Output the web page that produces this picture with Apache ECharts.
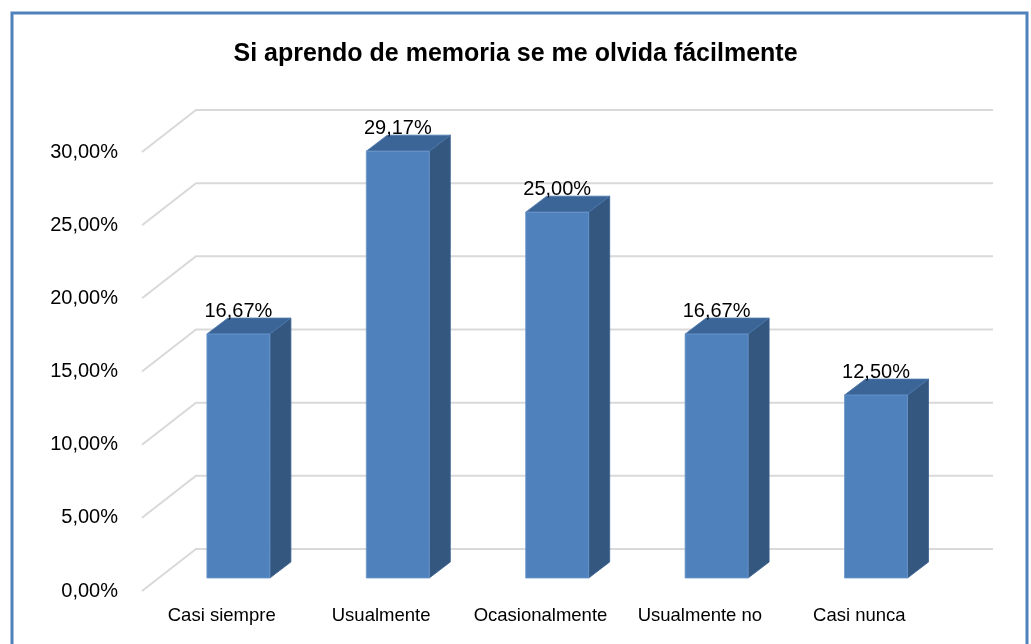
<!DOCTYPE html>
<html>
<head>
<meta charset="utf-8">
<script src="https://cdn.jsdelivr.net/npm/echarts@6/dist/echarts.min.js"></script>
<style>
  html, body { margin: 0; padding: 0; background: #fff; }
  #main { width: 1031px; height: 644px; }
</style>
</head>
<body>
<div id="main"></div>
<script>
var titulo = 'Si aprendo de memoria se me olvida fácilmente';
var categorias = ['Casi siempre', 'Usualmente', 'Ocasionalmente', 'Usualmente no', 'Casi nunca'];
var valores = [16.67, 29.17, 25.00, 16.67, 12.50];
var ticks = [0, 5, 10, 15, 20, 25, 30];

var myChart = echarts.init(document.getElementById('main'));

// desplazamientos de la perspectiva (pared del fondo y barras)
var fondo = [54, -42];
var barFront = [16.7, -13];
var barDepth = [21, -16];
var barHalf = 31.5;

function pct(v) {
  return v.toFixed(2).replace('.', ',') + '%';
}

var option = {
  backgroundColor: '#fff',
  animation: false,
  title: {
    text: titulo,
    left: 'center',
    top: 37,
    textStyle: { fontFamily: 'Liberation Sans', fontSize: 25, fontWeight: 'bold', color: '#000' }
  },
  graphic: [{
    type: 'rect',
    shape: { x: 12, y: 13, width: 1015, height: 650 },
    style: { fill: 'none', stroke: '#4f81bd', lineWidth: 3 },
    silent: true
  }],
  grid: { left: 142, width: 797, top: 152, bottom: 53 },
  xAxis: {
    type: 'category',
    data: categorias,
    axisLine: { show: false },
    axisTick: { show: false },
    axisLabel: { interval: 0, margin: 15, fontFamily: 'Liberation Sans', fontSize: 18.5, color: '#000' }
  },
  yAxis: {
    type: 'value',
    min: 0,
    max: 30,
    interval: 5,
    axisLine: { show: false },
    axisTick: { show: false },
    splitLine: { show: false },
    axisLabel: { margin: 24, fontFamily: 'Liberation Sans', fontSize: 20, color: '#000', formatter: pct }
  },
  series: [{
    // líneas de la pared y del piso
    type: 'custom',
    silent: true,
    z: 1,
    data: ticks.map(function (t) { return [0, t]; }),
    renderItem: function (params, api) {
      var cs = params.coordSys;
      var y = api.coord([0, api.value(1)])[1];
      return {
        type: 'polyline',
        shape: { points: [[cs.x, y], [cs.x + fondo[0], y + fondo[1]], [cs.x + cs.width + fondo[0], y + fondo[1]]] },
        style: { stroke: '#d9d9d9', lineWidth: 2, fill: null }
      };
    }
  }, {
    // barras 3D
    type: 'custom',
    z: 2,
    data: valores.map(function (v, i) { return [i, v]; }),
    renderItem: function (params, api) {
      var top = api.coord([api.value(0), api.value(1)]);
      var base = api.coord([api.value(0), 0]);
      var x0 = top[0] + barFront[0] - barHalf;
      var x1 = top[0] + barFront[0] + barHalf;
      var yt = top[1] + barFront[1];
      var yb = base[1] + barFront[1];
      var dx = barDepth[0], dy = barDepth[1];
      return {
        type: 'group',
        children: [{
          type: 'polygon',
          shape: { points: [[x1, yt], [x1 + dx, yt + dy], [x1 + dx, yb + dy], [x1, yb]] },
          style: { fill: '#34577f', stroke: '#3a6090', lineWidth: 0.8 }
        }, {
          type: 'polygon',
          shape: { points: [[x0, yt], [x0 + dx, yt + dy], [x1 + dx, yt + dy], [x1, yt]] },
          style: { fill: '#3c6597', stroke: '#4a77ad', lineWidth: 0.8 }
        }, {
          type: 'rect',
          shape: { x: x0, y: yt, width: x1 - x0, height: yb - yt },
          style: { fill: '#4f81bd', stroke: '#6b97cc', lineWidth: 0.8 }
        }, {
          type: 'text',
          x: (x0 + x1) / 2,
          y: yt + dy + 3,
          style: {
            text: pct(api.value(1)),
            fontFamily: 'Liberation Sans',
            fontSize: 20,
            fill: '#000',
            align: 'center',
            verticalAlign: 'bottom'
          }
        }]
      };
    }
  }]
};
myChart.setOption(option);
</script>
</body>
</html>
